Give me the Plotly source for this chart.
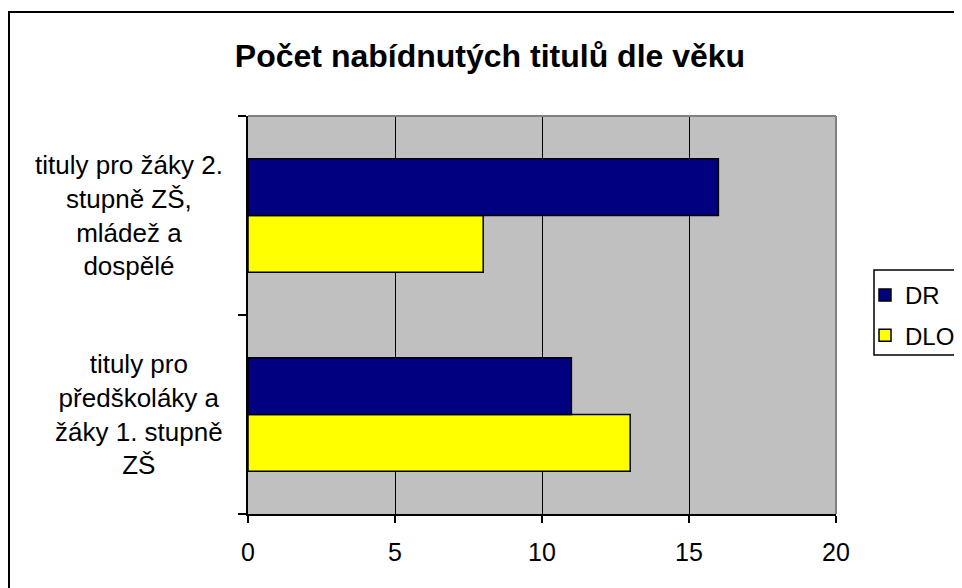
import plotly.graph_objects as go

# data
categories = ['tituly pro předškoláky a žáky 1. stupně ZŠ',
              'tituly pro žáky 2. stupně ZŠ, mládež a dospělé']
cat_labels = ['tituly pro<br>předškoláky a<br>žáky 1. stupně<br>ZŠ',
              'tituly pro žáky 2.<br>stupně ZŠ,<br>mládež a<br>dospělé']
dr = [11, 16]
dlo = [13, 8]

FONT = 'Liberation Sans, Arial, sans-serif'

# the page body has an 8px margin, so work in page pixels and shift by 8
OFF = 8
W, H = 1010, 600   # wider than the window on purpose: the chart frame is cut at the right edge
L, R, T, B = 248 - OFF, 836 - OFF, 116 - OFF, 514 - OFF
pw, ph = R - L, B - T
px = lambda x: (x - OFF - L) / pw
py = lambda y: (B - (y - OFF)) / ph

fig = go.Figure()
#DLO first so that DR sits on top inside each group
fig.add_trace(go.Bar(y=categories, x=dlo, name='DLO', orientation='h',
                     marker=dict(color='#FFFF00', line=dict(color='black', width=1.5)),
                     legendgroup='b', legendrank=2))
fig.add_trace(go.Bar(y=categories, x=dr, name='DR', orientation='h',
                     marker=dict(color='#000080', line=dict(color='black', width=1.5)),
                     legendgroup='a', legendrank=1))

annotations = []
for c, lab in zip(categories, cat_labels):
  annotations.append(dict(xref='paper', yref='y', x=px(225), y=c, text=lab,
                          xanchor='right', yanchor='middle', align='center',
                          showarrow=False, font=dict(family=FONT, size=26, color='black')))

shapes = [
  #outer chart border
  dict(type='rect', xref='paper', yref='paper', x0=px(9), x1=px(1100), y0=py(700), y1=py(12),
       line=dict(color='black', width=2), layer='below'),
  #top and right edges of plot area
  dict(type='line', xref='paper', yref='paper', x0=0, x1=1, y0=1, y1=1,
       line=dict(color='#808080', width=2)),
  dict(type='line', xref='paper', yref='paper', x0=1, x1=1, y0=0, y1=1,
       line=dict(color='#808080', width=2)),
  #legend frame (runs off the right edge like the chart frame)
  dict(type='rect', xref='paper', yref='paper', x0=px(874), x1=px(1100), y0=py(355), y1=py(270),
       line=dict(color='black', width=1.5), fillcolor='white', layer='below'),
]

fig.update_layout(
  width=W, height=H,
  margin=dict(l=L, r=W - R, t=T, b=H - B),
  paper_bgcolor='white', plot_bgcolor='#C0C0C0',
  barmode='group', bargap=0.43, bargroupgap=0,
  title=dict(text='<b>Počet nabídnutých titulů dle věku</b>', xref='paper', x=px(490),
             xanchor='center', yref='container', y=1 - (56 - OFF) / H, yanchor='middle',
             font=dict(family=FONT, size=32, color='black')),
  font=dict(family=FONT, color='black'),
  xaxis=dict(range=[0, 20], tickvals=[0, 5, 10, 15, 20], showgrid=True, gridcolor='black', gridwidth=1,
             zeroline=False, showline=True, linecolor='black', linewidth=2,
             ticks='outside', ticklen=7, tickcolor='black', tickwidth=2,
             tickfont=dict(family=FONT, size=25), ticklabelstandoff=8),
  yaxis=dict(type='category', showgrid=False, zeroline=False, showline=True, linecolor='black', linewidth=2,
             ticks='outside', ticklen=8, tickcolor='black', tickwidth=2, tickson='boundaries',
             showticklabels=False),
  legend=dict(x=px(865), y=py(273), xanchor='left', yanchor='top',
              borderwidth=0, bgcolor='rgba(0,0,0,0)',
              font=dict(family=FONT, size=24, color='black'),
              tracegroupgap=6, itemwidth=30),
  annotations=annotations,
  shapes=shapes,
)

fig.write_html('out.html')
